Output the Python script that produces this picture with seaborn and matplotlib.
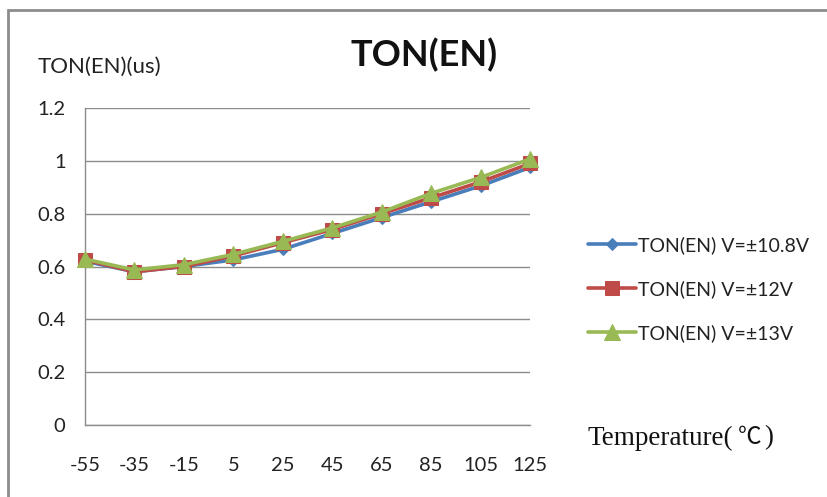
import pandas as pd
import matplotlib
matplotlib.use("Agg")
import matplotlib.pyplot as plt
import seaborn as sns
from matplotlib.patches import Rectangle

# data
temps = [-55, -35, -15, 5, 25, 45, 65, 85, 105, 125]
ton_108 = [0.62, 0.58, 0.60, 0.625, 0.665, 0.725, 0.785, 0.845, 0.905, 0.975]
ton_12 = [0.625, 0.58, 0.60, 0.64, 0.69, 0.74, 0.80, 0.86, 0.92, 0.99]
ton_13 = [0.628, 0.587, 0.607, 0.646, 0.695, 0.746, 0.806, 0.877, 0.937, 1.007]
series_names = ["TON(EN) V=±10.8V", "TON(EN) V=±12V", "TON(EN) V=±13V"]

df = pd.DataFrame({"temp": temps * 3,
                   "ton": ton_108 + ton_12 + ton_13,
                   "series": sum([[n] * len(temps) for n in series_names], [])})

sns.set_style("white")
plt.rcParams['font.family'] = ['Lato', 'DejaVu Sans']

colors = ["#4A7EBB", "#BE4B48", "#98B954"]
markers = ["D", "s", "^"]
sizes = [6, 10, 11]

fig = plt.figure(figsize=(8.27, 4.97), dpi=100)
ax = fig.add_axes([85 / 827, 1 - 425 / 497, 445 / 827, 317 / 497])

for name, c, m, s in zip(series_names, colors, markers, sizes):
    sns.lineplot(data=df[df["series"] == name], x="temp", y="ton", ax=ax,
                 color=c, marker=m, markersize=s, markeredgecolor=c,
                 linewidth=2.6, label=name, clip_on=False, zorder=3)

ax.set_xlim(-55, 125)
ax.set_ylim(0, 1.2)
ax.set_xticks(temps)
ax.set_xticklabels([str(t) for t in temps])
ax.set_yticks([0, 0.2, 0.4, 0.6, 0.8, 1.0, 1.2])
ax.set_yticklabels(["0", "0.2", "0.4", "0.6", "0.8", "1", "1.2"])
ax.grid(axis="y", color="#8c8c8c", linewidth=1)
ax.set_axisbelow(True)
for sp in ["top", "right"]:
    ax.spines[sp].set_visible(False)
for sp in ["left", "bottom"]:
    ax.spines[sp].set_color("#8c8c8c")
    ax.spines[sp].set_linewidth(1)
ax.tick_params(axis="both", length=6, width=1, color="#8c8c8c",
               labelsize=14.5, labelcolor="#222222", direction="out")
ax.tick_params(axis="x", pad=17)
ax.tick_params(axis="y", pad=8)
ax.set_xlabel("")
ax.set_ylabel("")

leg = ax.legend(loc="center left", bbox_to_anchor=(578 / 827, 1 - 289 / 497),
                bbox_transform=fig.transFigure, frameon=False, fontsize=14,
                handlelength=2.5, handletextpad=0.1, labelspacing=1.35,
                borderpad=0)
for t in leg.get_texts():
    t.set_color("#222222")

fig.text(424 / 827, 1 - 55 / 497, "TON(EN)", ha="center", va="center",
         fontsize=26, fontweight="bold", color="#111111")
fig.text(38 / 827, 1 - 67 / 497, "TON(EN)(us)", ha="left", va="center",
         fontsize=16, color="#222222")
# x axis title, the degree sign is a full width glyph in the original
fig.text(588 / 827, 1 - 438 / 497, "Temperature(", ha="left", va="center",
         fontsize=19.5, color="#111111", family="Liberation Serif")
fig.text(750 / 827, 1 - 438 / 497, "℃", ha="center", va="center",
         fontsize=17, color="#111111", family=["Noto Sans CJK SC", "DejaVu Sans"])
fig.text(764 / 827, 1 - 438 / 497, ")", ha="left", va="center",
         fontsize=19.5, color="#111111", family="Liberation Serif")

# outer chart frame
fig.patches.append(Rectangle((8 / 827, -0.1), 1.2, 1 - 10 / 497 + 0.1,
                             transform=fig.transFigure, fill=False,
                             edgecolor="#8c8c8c", linewidth=2))

fig.savefig("out.png", dpi=100)
